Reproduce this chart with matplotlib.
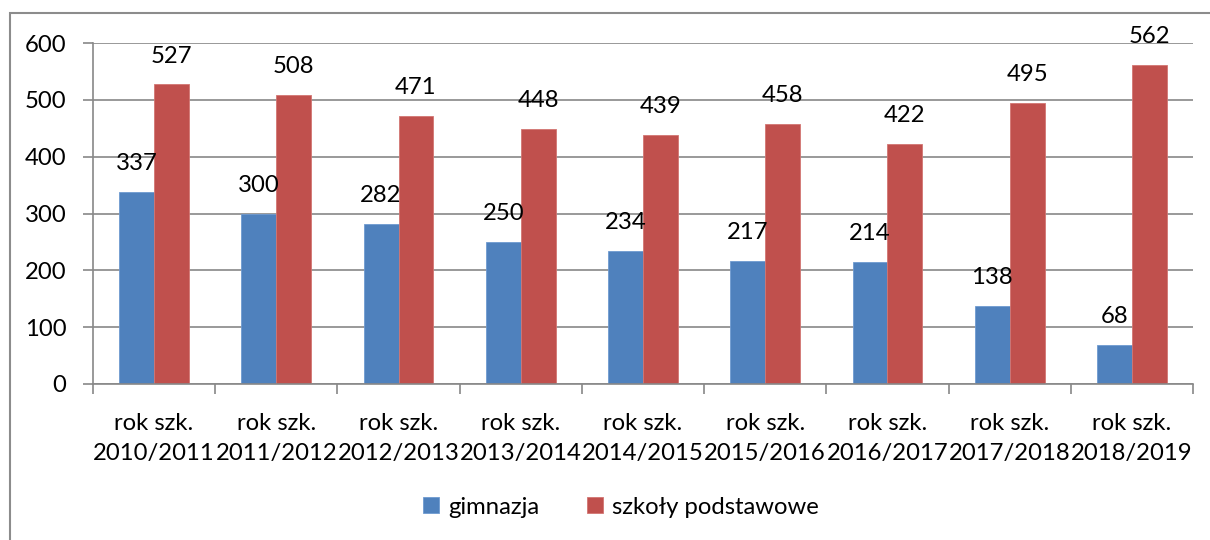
import matplotlib
matplotlib.use("Agg")
import matplotlib.pyplot as plt
from matplotlib.patches import Rectangle
import numpy as np

categories = ["rok szk.\n2010/2011", "rok szk.\n2011/2012", "rok szk.\n2012/2013",
              "rok szk.\n2013/2014", "rok szk.\n2014/2015", "rok szk.\n2015/2016",
              "rok szk.\n2016/2017", "rok szk.\n2017/2018", "rok szk.\n2018/2019"]
gimnazja = [337, 300, 282, 250, 234, 217, 214, 138, 68]
podstawowe = [527, 508, 471, 448, 439, 458, 422, 495, 562]
series_names = ["gimnazja", "szkoły podstawowe"]
yticks = [0, 100, 200, 300, 400, 500, 600]

plt.rcParams['font.family'] = ['Lato', 'DejaVu Sans']
FS = 17.2
W, H = 1210, 540
fig = plt.figure(figsize=(W/100, H/100), dpi=100)

# outer frame
fig.patches.append(Rectangle((10/W, -0.05), 1.2, 1 - 13/H + 0.05, transform=fig.transFigure,
                             fill=False, edgecolor="#8c8c8c", linewidth=1.5))

ax = fig.add_axes([93/W, 1 - 384/H, (1193-93)/W, (384-43)/H])
n = len(categories)
x = np.arange(n)
bw = 1/3.5
blue = "#4F81BD"
red = "#C0504D"
b1 = ax.bar(x - bw/2, gimnazja, bw, color=blue, edgecolor="#6f9ad0", linewidth=0.6, label=series_names[0])
b2 = ax.bar(x + bw/2, podstawowe, bw, color=red, edgecolor="#d27572", linewidth=0.6, label=series_names[1])
for bars, vals in ((b1, gimnazja), (b2, podstawowe)):
    for r, v in zip(bars, vals):
        ax.annotate(str(v), (r.get_x() + r.get_width()/2, v), xytext=(0, 20.5),
                    textcoords="offset points", ha="center", va="center", fontsize=FS, color="black")

ax.set_xlim(-0.5, n - 0.5)
ax.set_ylim(0, 600)
ax.set_yticks(yticks)
ax.set_yticklabels([str(t) for t in yticks], fontsize=FS)
ax.yaxis.grid(True, color="#888888", linewidth=1.2)
ax.set_axisbelow(True)
ax.set_xticks(x)
ax.set_xticklabels(categories, fontsize=FS, linespacing=1.5)
ax.set_xticks(np.arange(n + 1) - 0.5, minor=True)
ax.tick_params(axis="x", which="major", length=0, pad=21)
ax.tick_params(axis="x", which="minor", length=7, color="#888888", width=1.2)
ax.tick_params(axis="y", length=7, color="#888888", width=1.2, pad=12)
for s in ("top", "right"):
    ax.spines[s].set_visible(False)
for s in ("left", "bottom"):
    ax.spines[s].set_color("#888888")
    ax.spines[s].set_linewidth(1.2)

fig.legend(handles=[b1, b2], labels=series_names, loc="center", bbox_to_anchor=(621/W, 1 - 507/H),
           ncol=2, frameon=False, fontsize=FS, handlelength=0.65, handleheight=0.65,
           handletextpad=0.4, columnspacing=2.0)

fig.savefig("out.png", dpi=100)
